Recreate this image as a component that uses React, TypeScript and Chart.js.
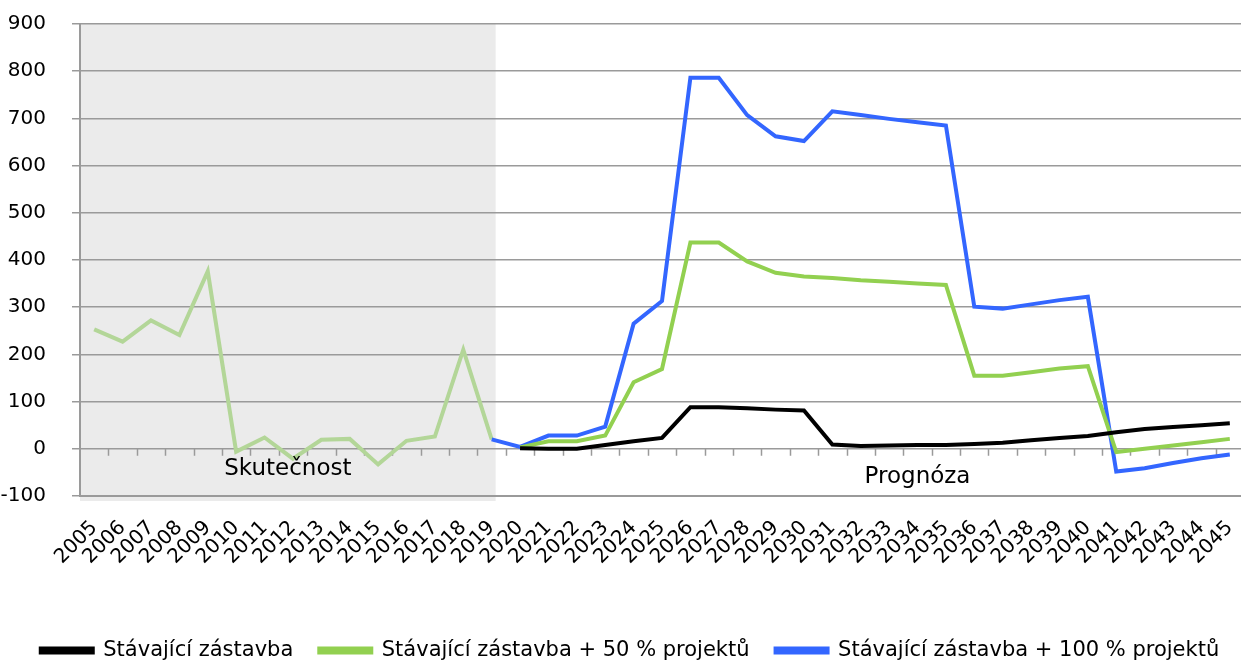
import React, { useEffect, useRef } from "react";
import { Chart, registerables } from "chart.js";

Chart.register(...registerables);

const years = [
  "2005", "2006", "2007", "2008", "2009", "2010", "2011", "2012", "2013", "2014",
  "2015", "2016", "2017", "2018", "2019", "2020", "2021", "2022", "2023", "2024",
  "2025", "2026", "2027", "2028", "2029", "2030", "2031", "2032", "2033", "2034",
  "2035", "2036", "2037", "2038", "2039", "2040", "2041", "2042", "2043", "2044",
  "2045",
];

// 2005–2019 (actual)
const actualValues = [253, 227, 272, 241, 376, -6, 24, -21, 19, 21, -33, 17, 26, 210, 20];
// 2020–2045
const baseValues = [1, 0, 0, 8, 16, 23, 88, 88, 86, 83, 81, 9, 6, 7, 8, 8, 10, 13, 18, 23, 27, 35, 42, 46, 50, 54];
// 2020–2045
const plus50Values = [3, 16, 16, 28, 141, 169, 437, 437, 397, 373, 365, 362, 357, 354, 350, 347, 155, 155, 162, 170, 175, -7, 0, 7, 14, 21];
// 2019–2045
const plus100Values = [20, 4, 28, 28, 47, 265, 313, 786, 786, 707, 662, 652, 715, 707, 699, 692, 685, 301, 297, 306, 315, 322, -48, -41, -30, -20, -12];

const seriesNames = [
  "Stávající zástavba",
  "Stávající zástavba + 50 % projektů",
  "Stávající zástavba + 100 % projektů",
];
const periodLabels = ["Skutečnost", "Prognóza"];
const lastActualYear = "2019";
const forecastLabelYear = "2034";

function align(values: number[], startYear: string): (number | null)[] {
  const off = years.indexOf(startYear);
  return years.map((_, i) => {
    const j = i - off;
    return j >= 0 && j < values.length ? values[j] : null;
  });
}

const FONT = "'DejaVu Sans', Verdana, sans-serif";
const GRID = "#9a9a9a";
const CANVAS_W = 1244;
const CANVAS_H = 671;
const LEGEND_SHIFT = 8;

const overlayPlugin = {
  id: "overlay",
  afterLayout(chart: any) {
    const lg = chart.legend;
    if (lg) {
      lg.left += LEGEND_SHIFT;
      lg.right += LEGEND_SHIFT;
      if (lg.legendHitBoxes) lg.legendHitBoxes.forEach((b: any) => (b.left += LEGEND_SHIFT));
    }
  },
  beforeDraw(chart: any) {
    const { ctx, chartArea, scales } = chart;
    const xs = scales.x;
    const right = xs.getPixelForValue(years.indexOf(lastActualYear)) + 4;
    ctx.save();
    ctx.fillStyle = "#ebebeb";
    ctx.fillRect(chartArea.left, chartArea.top, right - chartArea.left, chartArea.bottom - chartArea.top + 5);
    ctx.restore();
  },
  beforeDatasetsDraw(chart: any) {
    const { ctx, scales } = chart;
    const xs = scales.x;
    const ys = scales.y;
    const y0 = ys.getPixelForValue(0);
    const w = (xs.right - xs.left) / years.length;
    ctx.save();
    ctx.strokeStyle = GRID;
    ctx.lineWidth = 1.5;
    ctx.beginPath();
    for (let k = 1; k <= years.length; k++) {
      const px = Math.round(xs.left + k * w) + 0.5;
      ctx.moveTo(px, y0);
      ctx.lineTo(px, y0 + 7);
    }
    ctx.stroke();
    ctx.restore();
  },
  afterDraw(chart: any) {
    const { ctx, chartArea, scales } = chart;
    const xs = scales.x;
    const ys = scales.y;
    const grayRight = xs.getPixelForValue(years.indexOf(lastActualYear)) + 4;
    ctx.save();
    ctx.font = `23px ${FONT}`;
    ctx.fillStyle = "#000";
    ctx.textAlign = "center";
    ctx.textBaseline = "middle";
    ctx.fillText(periodLabels[0], (chartArea.left + grayRight) / 2, ys.getPixelForValue(-43));
    ctx.fillText(periodLabels[1], xs.getPixelForValue(years.indexOf(forecastLabelYear)), ys.getPixelForValue(-59));
    ctx.restore();
  },
};

export default function App() {
  const canvasRef = useRef<HTMLCanvasElement | null>(null);

  useEffect(() => {
    if (!canvasRef.current) return;
    const chart = new Chart(canvasRef.current, {
      type: "line",
      data: {
        labels: years,
        datasets: [
          {
            label: seriesNames[0],
            data: align(baseValues, "2020"),
            borderColor: "#000000",
            backgroundColor: "#000000",
            borderWidth: 4,
            pointRadius: 0,
          },
          {
            label: seriesNames[1],
            data: align(plus50Values, "2020"),
            borderColor: "#92d050",
            backgroundColor: "#92d050",
            borderWidth: 4,
            pointRadius: 0,
          },
          {
            label: seriesNames[2],
            data: align(plus100Values, "2019"),
            borderColor: "#3366ff",
            backgroundColor: "#3366ff",
            borderWidth: 4,
            pointRadius: 0,
          },
          {
            label: "actual",
            data: align(actualValues, "2005"),
            borderColor: "#b3d698",
            backgroundColor: "#b3d698",
            borderWidth: 4,
            pointRadius: 0,
          },
        ],
      },
      options: {
        animation: false,
        responsive: false,
        maintainAspectRatio: false,
        layout: { padding: { top: 24, left: 0, right: 0, bottom: 0 } },
        plugins: {
          legend: {
            position: "bottom",
            labels: {
              filter: (item: any) => item.datasetIndex !== 3,
              boxWidth: 52,
              boxHeight: 4,
              padding: 26,
              color: "#000",
              font: { family: FONT, size: 21 },
            },
          },
          tooltip: { enabled: false },
        },
        scales: {
          x: {
            offset: true,
            grid: { display: false, drawTicks: false },
            border: { display: true, color: GRID, width: 2 },
            ticks: {
              autoSkip: false,
              maxRotation: 45,
              minRotation: 45,
              padding: 20,
              color: "#000",
              font: { family: FONT, size: 20 },
            },
            afterFit: (scale: any) => {
              scale.height = 118;
              scale.paddingLeft = 0;
              scale.paddingRight = 0;
            },
          },
          y: {
            min: -100,
            max: 900,
            ticks: {
              stepSize: 100,
              padding: 26,
              color: "#000",
              font: { family: FONT, size: 20 },
            },
            grid: { color: GRID, lineWidth: 1.5, tickLength: 8, tickColor: GRID },
            border: { display: true, color: GRID, width: 2 },
            afterFit: (scale: any) => {
              scale.width = 80;
              scale.paddingTop = 0;
              scale.paddingBottom = 0;
            },
          },
        },
      },
      plugins: [overlayPlugin],
    } as any);
    return () => chart.destroy();
  }, []);

  return (
    <div style={{ position: "fixed", left: 0, top: 0, width: 1241, height: 661, overflow: "hidden", background: "#fff" }}>
      <canvas
        ref={canvasRef}
        width={CANVAS_W}
        height={CANVAS_H}
        style={{ display: "block", width: CANVAS_W, height: CANVAS_H }}
      />
    </div>
  );
}
